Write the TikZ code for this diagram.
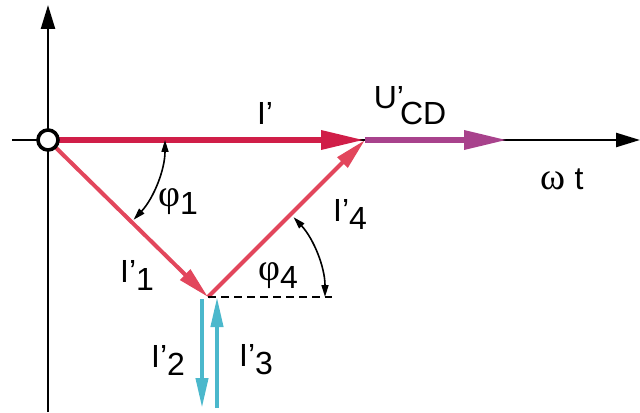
\documentclass[tikz,border=0pt]{standalone}
\usepackage{fontspec}
\setmainfont{Liberation Sans}
\newfontfamily\greekfont{Liberation Serif}
\usetikzlibrary{arrows.meta}

\definecolor{stromrot}{RGB}{208,30,72}
\definecolor{zweigrot}{RGB}{226,70,92}
\definecolor{spannlila}{RGB}{168,66,140}
\definecolor{stromblau}{RGB}{75,184,204}

\newcommand{\tief}[2][4pt]{\raisebox{-#1}{#2}}
\newcommand{\griech}[1]{{\greekfont\fontsize{19}{22}\selectfont #1}}

\tikzset{
  achse/.style={line width=1.2pt, -{Triangle[length=12pt,width=7pt]}},
  hauptzeiger/.style={line width=3.2pt, -{Triangle[length=22pt,width=9pt]}},
  zeiger/.style={line width=2pt, -{Triangle[length=16pt,width=7pt]}},
  blauzeiger/.style={line width=2pt, stromblau, -{Triangle[length=15pt,width=6pt]}},
  winkel/.style={line width=0.8pt, {Triangle[length=6pt,width=3.5pt]}-{Triangle[length=6pt,width=3.5pt]}},
  beschriftung/.style={font=\fontsize{16}{19}\selectfont, inner sep=0pt},
}

\begin{document}
\begin{tikzpicture}[x=0.5pt, y=0.5pt]
    \useasboundingbox (0,0) rectangle (640,412);

    % Punkte
    \coordinate (O) at (48,272);
    \coordinate (A) at (365,272);
    \coordinate (U) at (508,272);
    \coordinate (B) at (208,115);
    \coordinate (links) at (12,272);
    \coordinate (rechts) at (640,272);
    \coordinate (unten) at (48,0);
    \coordinate (oben) at (48,407);
    \coordinate (strich) at (332,115);

    % Achsen
    \draw[achse] (links) -- (rechts);
    \draw[achse] (unten) -- (oben);

    % Zeiger
    \draw[hauptzeiger, spannlila] (A) -- (U);
    \draw[hauptzeiger, stromrot] (O) -- (A);
    \draw[zeiger, zweigrot] (O) -- (B);
    \draw[zeiger, zweigrot] (B) -- (A);
    \draw[line width=0.8pt, dash pattern=on 4pt off 2.5pt] (B) -- (strich);

    \coordinate (B2) at (202,113);
    \coordinate (E2) at (202,4);
    \coordinate (B3) at (217,4);
    \coordinate (E3) at (217,115);
    \draw[blauzeiger] (B2) -- (E2);
    \draw[blauzeiger] (B3) -- (E3);

    % Winkel
    \draw[winkel] (O) ++(-43:117) arc[start angle=-43, end angle=0, radius=117];
    \draw[winkel] (B) ++(43:117) arc[start angle=43, end angle=0, radius=117];

    % Ursprung
    \node[draw, circle, line width=1.8pt, fill=white, minimum size=10pt, inner sep=0pt] (ursprung) at (O) {};

    % Beschriftungen
    \node[beschriftung] (lI) at (265,299) {I’};
    \node[beschriftung] (lU) at (410,306) {U’\kern-2pt\tief[8pt]{CD}};
    \node[beschriftung] (lwt) at (562,233) {\griech{ω} t};
    \node[beschriftung] (lI4) at (350,198) {I’\tief{4}};
    \node[beschriftung] (lphi1) at (178,210) {\griech{φ}\tief{1}};
    \node[beschriftung] (lI1) at (137,137) {I’\tief{1}};
    \node[beschriftung] (lphi4) at (278,136) {\griech{φ}\tief{4}};
    \node[beschriftung] (lI2) at (168,52) {I’\tief{2}};
    \node[beschriftung] (lI3) at (256,52) {I’\tief{3}};
\end{tikzpicture}
\end{document}
